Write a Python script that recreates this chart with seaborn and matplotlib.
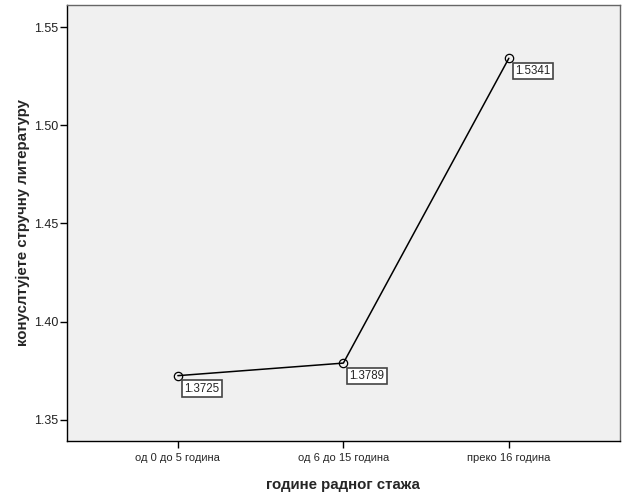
import numpy as np
import pandas as pd
import seaborn as sns
import matplotlib.pyplot as plt

categories = ['од 0 до 5 година', 'од 6 до 15 година', 'преко 16 година']
means = [1.3725, 1.3789, 1.5341]
point_labels = ['1.3725', '1.3789', '1.5341']

df = pd.DataFrame({'staz': categories, 'mean': means})

sns.set_style("white")
plt.rcParams['font.family'] = ['Liberation Sans', 'DejaVu Sans']

fig = plt.figure(figsize=(6.26, 5.01), dpi=100)
ax = fig.add_axes([0.107, 0.12, 0.883, 0.87])
ax.set_facecolor('#f0f0f0')

sns.lineplot(data=df, x='staz', y='mean', ax=ax, color='black', lw=1.1,
             marker='o', mfc='none', mec='black', ms=6, mew=0.9, sort=False)

for i, (v, t) in enumerate(zip(means, point_labels)):
    ax.annotate(t, (i, v), xytext=(4.5, -5), textcoords='offset points',
                ha='left', va='top', fontsize=8.3,
                bbox=dict(boxstyle='square,pad=0.2', fc='white', ec='#444444', lw=1.2))

ax.set_xlim(-0.67, 2.67)
ax.set_ylim(1.3393, 1.5612)
ax.set_yticks([1.35, 1.40, 1.45, 1.50, 1.55])
ax.set_yticklabels(['1.35', '1.40', '1.45', '1.50', '1.55'])
ax.tick_params(axis='both', direction='out', length=5, width=1, color='black',
               labelsize=8, left=True, bottom=True)
ax.tick_params(axis='y', labelsize=9, labelcolor='#222222', pad=1)

for s in ['left', 'bottom']:
    ax.spines[s].set_color('black')
    ax.spines[s].set_linewidth(1)
for s in ['top', 'right']:
    ax.spines[s].set_color('#666666')
    ax.spines[s].set_linewidth(1)

ax.set_xlabel('године радног стажа', fontsize=10.8, fontweight='bold', labelpad=11)
ax.set_ylabel('конуслтујете стручну литературу', fontsize=10.8, fontweight='bold', labelpad=3)

fig.savefig('out.png', dpi=100)
